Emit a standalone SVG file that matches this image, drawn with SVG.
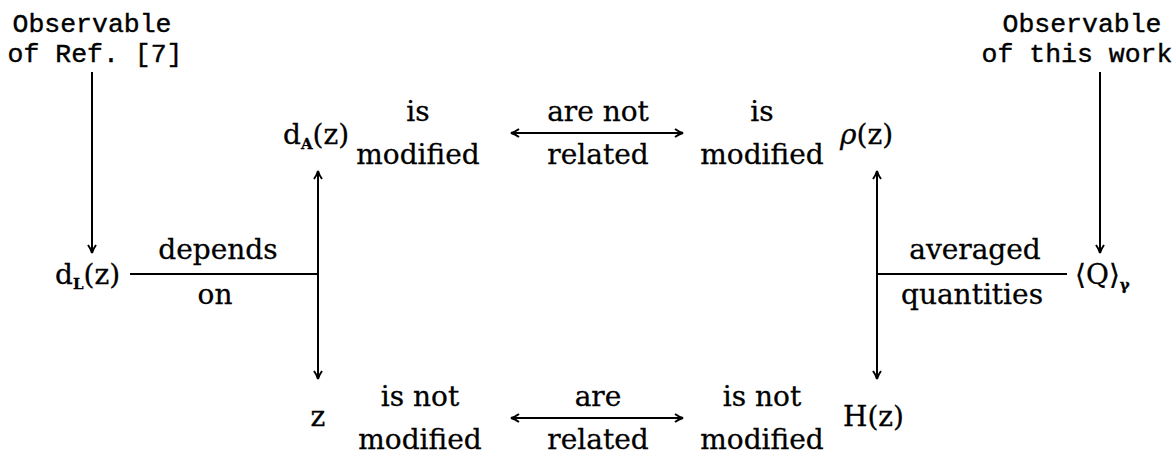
<svg xmlns="http://www.w3.org/2000/svg" width="1175" height="454" viewBox="0 0 1175 454">
<style>
.tt{font-family:"Liberation Mono","Courier New",monospace;font-size:26.5px;fill:#000;stroke:#000;stroke-width:0.4px}
.rm{font-family:"DejaVu Serif","Liberation Serif",serif;font-size:28px;fill:#000;stroke:#000;stroke-width:0.3px}
.c{text-anchor:middle}
.sb{font-size:15px;font-weight:bold}
.ln{stroke:#000;stroke-width:2;fill:none}
</style>
<defs>
<marker id="ah" viewBox="0 0 10 10" refX="9" refY="5" markerWidth="10" markerHeight="10" markerUnits="userSpaceOnUse" orient="auto-start-reverse">
<path d="M1,1 Q5,4 9,5 Q5,6 1,9" fill="none" stroke="#000" stroke-width="2"/>
</marker>
</defs>
<rect width="1175" height="454" fill="#fff"/>
<g id="connectors">
<line class="ln" x1="92" y1="72" x2="92" y2="253" marker-end="url(#ah)"/>
<line class="ln" x1="1100" y1="72" x2="1100" y2="253" marker-end="url(#ah)"/>
<line class="ln" x1="318" y1="171" x2="318" y2="379" marker-start="url(#ah)" marker-end="url(#ah)"/>
<line class="ln" x1="877" y1="171" x2="877" y2="379" marker-start="url(#ah)" marker-end="url(#ah)"/>
<line class="ln" x1="130" y1="274" x2="318" y2="274"/>
<line class="ln" x1="877" y1="274" x2="1067" y2="274"/>
<line class="ln" x1="511" y1="133" x2="683" y2="133" marker-start="url(#ah)" marker-end="url(#ah)"/>
<line class="ln" x1="511" y1="418" x2="683" y2="418" marker-start="url(#ah)" marker-end="url(#ah)"/>
</g>
<g id="obs-ref">
<text class="tt c" x="92" y="32">Observable</text>
<text class="tt c" x="95" y="62">of Ref. [7]</text>
</g>
<g id="obs-this">
<text class="tt c" x="1082" y="32">Observable</text>
<text class="tt c" x="1077" y="62">of this work</text>
</g>
<g id="dL"><text class="rm" x="55" y="284">d<tspan class="sb" dy="5">L</tspan><tspan dy="-5">(z)</tspan></text></g>
<g id="dA"><text class="rm" x="283" y="144">d<tspan class="sb" dy="5">A</tspan><tspan dy="-5">(z)</tspan></text></g>
<g id="rho"><text class="rm" x="840" y="144"><tspan font-style="italic">ρ</tspan>(z)</text></g>
<g id="Q"><text class="rm" x="1075" y="284">⟨Q⟩<tspan class="sb" dy="6">γ</tspan></text></g>
<g id="z"><text class="rm c" x="318" y="426">z</text></g>
<g id="H"><text class="rm" x="843" y="426">H(z)</text></g>
<g id="lbl-depends">
<text class="rm c" x="218" y="259">depends</text>
<text class="rm c" x="215" y="304">on</text>
</g>
<g id="lbl-averaged">
<text class="rm c" x="975" y="259">averaged</text>
<text class="rm c" x="972" y="304">quantities</text>
</g>
<g id="dA-mod">
<text class="rm c" x="418" y="121">is</text>
<text class="rm c" x="418" y="164">modified</text>
</g>
<g id="top-rel">
<text class="rm c" x="598" y="121">are not</text>
<text class="rm c" x="598" y="164">related</text>
</g>
<g id="rho-mod">
<text class="rm c" x="762" y="121">is</text>
<text class="rm c" x="762" y="164">modified</text>
</g>
<g id="z-mod">
<text class="rm c" x="420" y="406">is not</text>
<text class="rm c" x="420" y="449">modified</text>
</g>
<g id="bot-rel">
<text class="rm c" x="598" y="406">are</text>
<text class="rm c" x="598" y="449">related</text>
</g>
<g id="H-mod">
<text class="rm c" x="762" y="406">is not</text>
<text class="rm c" x="762" y="449">modified</text>
</g>
</svg>
